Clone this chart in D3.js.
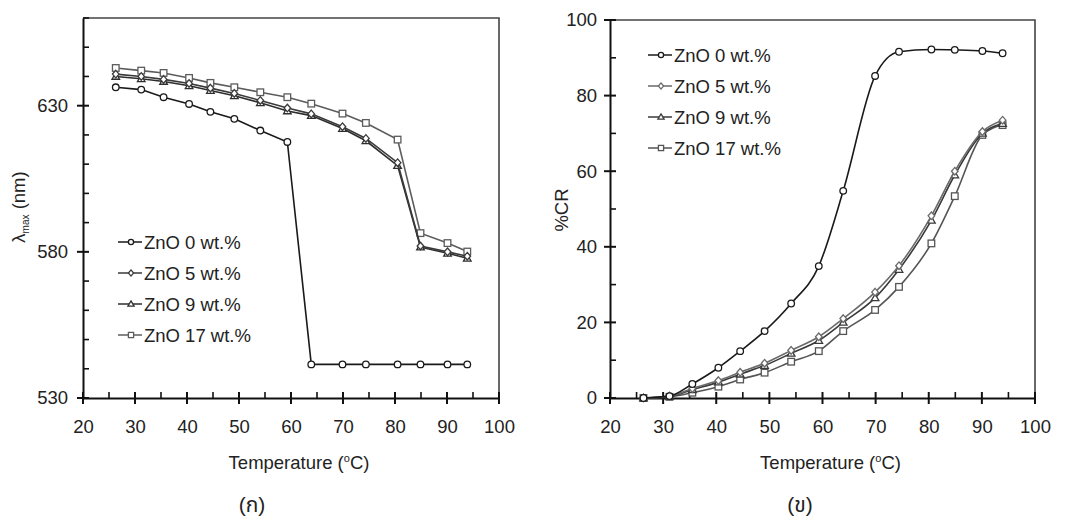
<!DOCTYPE html>
<html>
<head>
<meta charset="utf-8">
<script src="https://cdn.jsdelivr.net/npm/d3@7"></script>
<style>
body { margin: 0; background: #fff; }
svg text { font-family: "Liberation Sans", Arial, "Noto Sans Thai", "Noto Sans", sans-serif; fill: #222; }
</style>
</head>
<body>
<svg id="chart" width="1069" height="517"></svg>
<script>
// temperatures (°C)
var temps = [26.3, 31.2, 35.5, 40.4, 44.5, 49.1, 54.1, 59.3, 63.9, 69.9, 74.4, 80.5, 84.9, 90.1, 93.9];
var seriesNames = ["ZnO 0 wt.%", "ZnO 5 wt.%", "ZnO 9 wt.%", "ZnO 17 wt.%"];
var xTicks = [20, 30, 40, 50, 60, 70, 80, 90, 100];

// panel (a): lambda max (nm)
var lam0  = [636.3, 635.5, 632.9, 630.6, 627.9, 625.5, 621.5, 617.6, 541.5, 541.5, 541.5, 541.5, 541.5, 541.5, 541.5];
var lam5  = [640.8, 640.0, 639.0, 637.6, 636.0, 634.2, 631.8, 629.2, 627.2, 622.8, 618.8, 610.5, 582.0, 580.0, 578.5];
var lam9  = [640.0, 639.2, 638.3, 636.8, 635.2, 633.4, 631.0, 628.2, 626.6, 622.2, 618.0, 609.5, 581.6, 579.5, 577.8];
var lam17 = [642.9, 642.0, 641.2, 639.5, 637.8, 636.3, 634.6, 632.9, 630.7, 627.3, 624.1, 618.4, 586.4, 583.0, 580.1];
var lamTicks = [530, 580, 630];

// panel (b): %CR
var cr0  = [0, 0.5, 3.7, 8.0, 12.4, 17.7, 25.0, 34.9, 54.8, 85.2, 91.6, 92.2, 92.1, 91.8, 91.2];
var cr5  = [0, 0.5, 2.5, 4.6, 6.8, 9.2, 12.6, 16.2, 21.0, 28.0, 35.0, 48.2, 60.0, 70.5, 73.5];
var cr9  = [0, 0.4, 2.2, 4.2, 6.3, 8.6, 11.8, 15.2, 20.0, 26.5, 34.0, 47.0, 59.0, 70.0, 72.6];
var cr17 = [0, 0.3, 1.4, 3.0, 4.9, 6.7, 9.6, 12.4, 17.7, 23.3, 29.4, 40.9, 53.4, 69.6, 72.2];
var crTicks = [0, 20, 40, 60, 80, 100];

var svg = d3.select("#chart");

// marker shapes: circle, diamond, triangle, square
var shapes = ["circle", "diamond", "triangle", "square"];
function drawMarker(g, shape, cx, cy, s, col) {
  var m;
  if (shape == "circle") {
    m = g.append("circle").attr("cx", cx).attr("cy", cy).attr("r", s);
  } else if (shape == "square") {
    m = g.append("rect").attr("x", cx - s).attr("y", cy - s).attr("width", 2 * s).attr("height", 2 * s);
  } else if (shape == "diamond") {
    m = g.append("path").attr("d", "M" + cx + "," + (cy - s - 0.5) + "L" + (cx + s) + "," + cy + "L" + cx + "," + (cy + s + 0.5) + "L" + (cx - s) + "," + cy + "Z");
  } else {
    m = g.append("path").attr("d", "M" + cx + "," + (cy - s - 0.5) + "L" + (cx + s + 0.5) + "," + (cy + s - 0.5) + "L" + (cx - s - 0.5) + "," + (cy + s - 0.5) + "Z");
  }
  m.attr("fill", "#fff").attr("stroke", col).attr("stroke-width", 1.3);
}

function drawPanel(cfg) {
  var x = d3.scaleLinear().domain([20, 100]).range([cfg.left, cfg.right]);
  var y = d3.scaleLinear().domain(cfg.yDomain).range([cfg.bottom, cfg.top]);
  var g = svg.append("g");

  // frame (top + right)
  g.append("path")
    .attr("d", "M" + cfg.left + "," + cfg.top + "H" + cfg.right + "V" + cfg.bottom)
    .attr("fill", "none").attr("stroke", "#444").attr("stroke-width", 1.6);

  // x axis
  var xAx = g.append("g").attr("transform", "translate(0," + cfg.bottom + ")")
    .call(d3.axisBottom(x).tickValues(xTicks).tickSize(0).tickPadding(22));
  xAx.select(".domain").attr("stroke", "#111").attr("stroke-width", 2);
  xAx.selectAll("text").style("font-size", "18.5px").attr("fill", "#222");
  xAx.selectAll(".tick line").remove();
  d3.range(20, 101, 5).forEach(function (t) {
    var major = t % 10 == 0;
    g.append("line")
      .attr("x1", x(t)).attr("x2", x(t))
      .attr("y1", cfg.bottom - 6).attr("y2", cfg.bottom + (major ? 6 : 0))
      .attr("stroke", "#111").attr("stroke-width", major ? 2 : 1.6);
  });

  // y axis
  var yAx = g.append("g").attr("transform", "translate(" + cfg.left + ",0)")
    .call(d3.axisLeft(y).tickValues(cfg.yTicks).tickSize(0).tickPadding(cfg.yPad));
  yAx.select(".domain").attr("stroke", "#111").attr("stroke-width", 2);
  yAx.selectAll("text").style("font-size", "18.5px").attr("fill", "#222");
  yAx.selectAll(".tick line").remove();
  d3.range(cfg.yDomain[0], cfg.yDomain[1] + 0.1, cfg.minorStep).forEach(function (t) {
    var major = cfg.yTicks.indexOf(t) >= 0;
    g.append("line")
      .attr("x1", cfg.left - (major ? 6 : 0)).attr("x2", cfg.left + 6)
      .attr("y1", y(t)).attr("y2", y(t))
      .attr("stroke", "#111").attr("stroke-width", major ? 2 : 1.6);
  });

  // series
  var line = d3.line()
    .x(function (d) { return x(d[0]); })
    .y(function (d) { return y(d[1]); })
    .curve(cfg.curve);
  // draw in reverse so ZnO 0 sits on top
  [3, 2, 1, 0].forEach(function (i) {
    var pts = temps.map(function (t, j) { return [t, cfg.series[i][j]]; });
    g.append("path").datum(pts)
      .attr("d", line)
      .attr("fill", "none")
      .attr("stroke", cfg.colors[i])
      .attr("stroke-width", 1.6);
    pts.forEach(function (p) {
      drawMarker(g, shapes[i], x(p[0]), y(p[1]), 3.3, cfg.colors[i]);
    });
  });

  // legend
  seriesNames.forEach(function (name, i) {
    var ly = cfg.legendY + i * 31;
    g.append("line")
      .attr("x1", cfg.legendX).attr("x2", cfg.legendX + 24)
      .attr("y1", ly).attr("y2", ly)
      .attr("stroke", cfg.colors[i]).attr("stroke-width", 1.5);
    drawMarker(g, shapes[i], cfg.legendX + 13, ly, 2.6, cfg.colors[i]);
    g.append("text")
      .attr("x", cfg.legendX + 26).attr("y", ly + 7)
      .style("font-size", "18.5px")
      .text(name);
  });

  // x label
  var xl = g.append("text")
    .attr("x", (cfg.left + cfg.right) / 2 + 8).attr("y", cfg.bottom + 71)
    .attr("text-anchor", "middle")
    .style("font-size", "18.5px");
  xl.append("tspan").text("Temperature (");
  xl.append("tspan").attr("dy", -7).style("font-size", "11px").text("o");
  xl.append("tspan").attr("dy", 7).text("C)");

  // y label
  var yl = g.append("text")
    .attr("transform", "translate(" + cfg.yLabelX + "," + cfg.yLabelY + ") rotate(-90)")
    .attr("text-anchor", "middle")
    .style("font-size", "18.5px");
  if (cfg.yLabelSub) {
    yl.append("tspan").text(cfg.yLabel);
    yl.append("tspan").attr("dy", 4).style("font-size", "10px").text(cfg.yLabelSub);
    yl.append("tspan").attr("dy", -4).text(" (nm)");
  } else {
    yl.text(cfg.yLabel);
  }

  // panel label
  g.append("text")
    .attr("x", cfg.panelX).attr("y", 512)
    .attr("text-anchor", "middle")
    .style("font-size", "21px")
    .text(cfg.panel);
}

drawPanel({
  left: 83, right: 499, top: 18, bottom: 398,
  yDomain: [530, 660], yTicks: lamTicks, minorStep: 10, yPad: 15,
  series: [lam0, lam5, lam9, lam17],
  colors: ["#1a1a1a", "#3a3a3a", "#2e2e2e", "#5c5c5c"],
  curve: d3.curveLinear,
  legendX: 118, legendY: 242,
  yLabel: "\u03bb", yLabelSub: "max", yLabelX: 25, yLabelY: 207,
  panelX: 252, panel: "(\u0e01)"
});

drawPanel({
  left: 610, right: 1035, top: 20, bottom: 398,
  yDomain: [0, 100], yTicks: crTicks, minorStep: 10, yPad: 13,
  series: [cr0, cr5, cr9, cr17],
  colors: ["#1a1a1a", "#6a6a6a", "#3a3a3a", "#555555"],
  curve: d3.curveMonotoneX,
  legendX: 648, legendY: 55,
  yLabel: "%CR", yLabelX: 568, yLabelY: 210,
  panelX: 800, panel: "(\u0e02)"
});
</script>
</body>
</html>
